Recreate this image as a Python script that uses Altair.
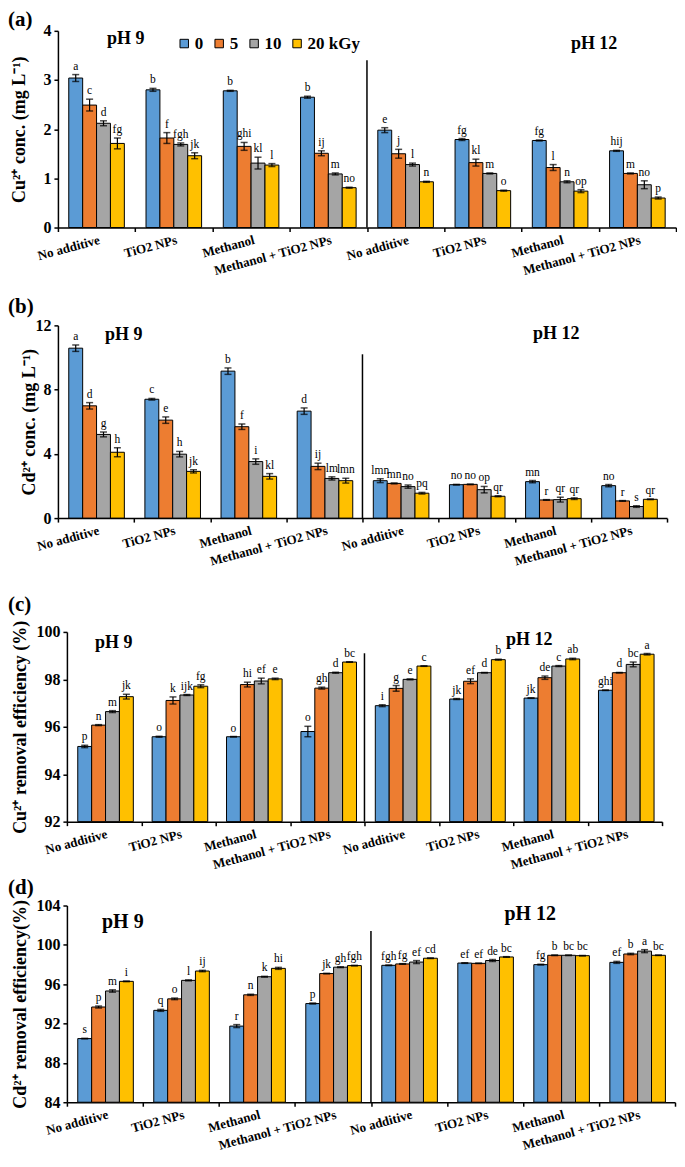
import altair as alt
import pandas as pd

# ---------------- data ----------------
categories = ["No additive", "TiO2 NPs", "Methanol", "Methanol  + TiO2 NPs"]
ph_levels = ["pH 9", "pH 12"]
doses = ["0", "5", "10", "20 kGy"]
dose_colors = ["#5B9BD5", "#ED7D31", "#A5A5A5", "#FFC000"]

# (a) Cu2+ concentration (mg/L)
cu_conc = [3.04, 2.49, 2.12, 1.71, 2.80, 1.82, 1.69, 1.46, 2.78, 1.65, 1.31, 1.27, 2.65, 1.51, 1.09, 0.81,
           1.98, 1.50, 1.28, 0.93, 1.79, 1.32, 1.10, 0.75, 1.77, 1.22, 0.93, 0.74, 1.56, 1.10, 0.87, 0.60]
cu_conc_err = [0.07, 0.12, 0.05, 0.11, 0.03, 0.11, 0.03, 0.06, 0.01, 0.08, 0.12, 0.03, 0.02, 0.05, 0.02, 0.01,
               0.05, 0.09, 0.03, 0.01, 0.02, 0.07, 0.01, 0.01, 0.01, 0.06, 0.02, 0.03, 0.01, 0.01, 0.08, 0.02]
cu_conc_letters = ["a", "c", "d", "fg", "b", "f", "fgh", "jk", "b", "ghi", "kl", "l", "b", "ij", "m", "no",
                   "e", "j", "l", "n", "fg", "kl", "m", "o", "fg", "l", "n", "op", "hij", "m", "no", "p"]

# (b) Cd2+ concentration (mg/L)
cd_conc = [10.58, 6.99, 5.21, 4.10, 7.40, 6.10, 3.98, 2.91, 9.15, 5.69, 3.52, 2.60, 6.66, 3.22, 2.47, 2.33,
           2.33, 2.16, 1.96, 1.55, 2.08, 2.10, 1.77, 1.36, 2.27, 1.13, 1.15, 1.21, 2.02, 1.07, 0.72, 1.17]
cd_conc_err = [0.20, 0.20, 0.15, 0.28, 0.05, 0.20, 0.17, 0.10, 0.20, 0.17, 0.17, 0.17, 0.20, 0.20, 0.10, 0.15,
               0.12, 0.03, 0.10, 0.05, 0.02, 0.02, 0.20, 0.03, 0.07, 0.02, 0.15, 0.05, 0.07, 0.02, 0.05, 0.02]
cd_conc_letters = ["a", "d", "g", "h", "c", "e", "h", "jk", "b", "f", "i", "kl", "d", "ij", "lm", "lmn",
                   "lmn", "mn", "no", "pq", "no", "no", "op", "qr", "mn", "r", "qr", "qr", "no", "r", "s", "qr"]

# (c) Cu2+ removal efficiency (%)
cu_rem = [95.17, 96.07, 96.64, 97.27, 95.58, 97.11, 97.34, 97.71, 95.58, 97.78, 97.93, 98.02, 95.80, 97.63, 98.28, 98.73,
          96.89, 97.62, 98.00, 98.56, 97.17, 97.92, 98.28, 98.83, 97.21, 98.07, 98.56, 98.86, 97.54, 98.28, 98.63, 99.06]
cu_rem_err = [0.05, 0.02, 0.04, 0.10, 0.02, 0.15, 0.02, 0.06, 0.01, 0.10, 0.12, 0.03, 0.22, 0.04, 0.02, 0.01,
              0.04, 0.12, 0.02, 0.01, 0.02, 0.10, 0.01, 0.02, 0.01, 0.07, 0.02, 0.03, 0.01, 0.01, 0.10, 0.03]
cu_rem_letters = ["p", "n", "m", "jk", "o", "k", "ijk", "fg", "o", "hi", "ef", "e", "o", "gh", "d", "bc",
                  "i", "g", "e", "c", "jk", "ef", "d", "b", "jk", "de", "c", "ab", "ghi", "d", "bc", "a"]

# (d) Cd2+ removal efficiency (%)
cd_rem = [90.47, 93.68, 95.31, 96.29, 93.34, 94.51, 96.39, 97.34, 91.74, 94.92, 96.76, 97.61, 94.03, 97.08, 97.73, 97.89,
          97.92, 98.06, 98.25, 98.64, 98.15, 98.12, 98.41, 98.77, 97.99, 98.94, 98.94, 98.90, 98.22, 99.07, 99.36, 98.94]
cd_rem_err = [0.03, 0.10, 0.12, 0.03, 0.10, 0.08, 0.05, 0.07, 0.15, 0.06, 0.04, 0.10, 0.05, 0.03, 0.04, 0.03,
              0.03, 0.03, 0.15, 0.03, 0.03, 0.02, 0.10, 0.03, 0.04, 0.03, 0.03, 0.02, 0.10, 0.07, 0.15, 0.02]
cd_rem_letters = ["s", "p", "m", "i", "q", "o", "l", "ij", "r", "n", "k", "hi", "p", "jk", "gh", "fgh",
                  "fgh", "fg", "ef", "cd", "ef", "ef", "de", "bc", "fg", "b", "bc", "bc", "ef", "b", "a", "bc"]

# top of the pH-separating vertical line (in data units)
separator_top = [3.40, 10.2, 99.1, 101.4]

FONT = "Liberation Serif"
keys = [f"{ph}|{c}" for ph in ph_levels for c in categories]


def build_df(vals, errs, lets):
    rows = []
    n = 0
    for k in keys:
        for d in doses:
            rows.append({"key": k, "dose": d, "value": vals[n],
                         "lo": round(vals[n] - errs[n], 4), "hi": round(vals[n] + errs[n], 4),
                         "letter": lets[n]})
            n += 1
    return pd.DataFrame(rows)


def text_layer(s, x, y, size, align="center"):
    return alt.Chart(pd.DataFrame({"t": [s]})).mark_text(
        font=FONT, fontSize=size, fontWeight="bold", align=align, baseline="middle", color="black"
    ).encode(x=alt.value(x), y=alt.value(y), text="t:N")


def panel(df, p, sep_top):
    extra = p["extra"]
    H = extra + p["plot_h"]
    xs = alt.Scale(domain=keys, range=[p["x0"], p["x1"]], paddingInner=0, paddingOuter=0)
    ys = alt.Scale(domain=p["ydom"], range=[H, extra], nice=False, zero=False)
    xaxis = alt.Axis(title=None, labelExpr="split(datum.label, '|')[1]", labelAngle=345,
                     labelAlign="right", labelBaseline="top", labelFont=FONT, labelFontWeight="bold",
                     labelFontSize=13, labelColor="black", labelPadding=2, labelOffset=1,
                     labelOverlap=False, tickBand="extent", tickSize=4, tickColor="black",
                     tickWidth=1.5, domainColor="black", domainWidth=1.5)
    yaxis = alt.Axis(title=p["ytitle"], values=p["yticks"], offset=p["yoff"], titleX=p["titleX"],
                     titleFont=FONT, titleFontSize=18, titleFontWeight="bold", titleColor="black",
                     labelFont=FONT, labelFontSize=16, labelFontWeight="bold", labelColor="black",
                     labelPadding=3, tickSize=4, tickColor="black", tickWidth=1.5,
                     domainColor="black", domainWidth=1.5, grid=False)
    X = alt.X("key:N", scale=xs, sort=keys, axis=xaxis)
    XO = alt.XOffset("dose:N", scale=alt.Scale(domain=doses, paddingInner=0, paddingOuter=0.78), sort=doses)

    def Y(f):
        return alt.Y(f, scale=ys, axis=yaxis)

    base = alt.Chart(df)
    bars = base.mark_bar(stroke="black", strokeWidth=1).encode(
        x=X, xOffset=XO, y=Y("value:Q"), y2=alt.datum(p["ydom"][0]),
        color=alt.Color("dose:N", sort=doses, scale=alt.Scale(domain=doses, range=dose_colors),
                        legend=alt.Legend(title=None, orient="none", legendX=p["legx"],
                                          legendY=extra + p["legy"] - 9, direction="horizontal",
                                          symbolType="square", symbolSize=72, symbolStrokeColor="black",
                                          symbolStrokeWidth=1, symbolOpacity=1, labelFont=FONT,
                                          labelFontSize=17, labelFontWeight="bold", labelColor="black",
                                          labelOffset=2, columnPadding=7, padding=0)))
    rule = base.mark_rule(color="black", strokeWidth=1.2).encode(x=X, xOffset=XO, y=Y("lo:Q"), y2="hi:Q")
    cap_hi = base.mark_tick(color="black", thickness=1.5, size=7).encode(x=X, xOffset=XO, y=Y("hi:Q"))
    cap_lo = base.mark_tick(color="black", thickness=1.5, size=7).encode(x=X, xOffset=XO, y=Y("lo:Q"))
    letters = base.mark_text(font=FONT, fontSize=11.5, baseline="bottom", dy=-3, color="black").encode(
        x=X, xOffset=XO, y=Y("hi:Q"), text="letter:N")
    sep_df = pd.DataFrame({"key": [keys[4]], "base": [p["ydom"][0]], "top": [sep_top]})
    sep = alt.Chart(sep_df).mark_rule(color="black", strokeWidth=1.5).encode(
        x=alt.X("key:N", scale=xs, sort=keys, axis=xaxis, bandPosition=0), y=Y("base:Q"), y2="top:Q")
    lbl = text_layer(p["label"], -50, extra + p["label_y"], 21, align="left")
    ph9 = text_layer("pH 9", p["ph9"][0], extra + p["ph9"][1], p["ph_size"])
    ph12 = text_layer("pH 12", p["ph12"][0], extra + p["ph12"][1], p["ph_size"])
    return alt.layer(bars, rule, cap_hi, cap_lo, letters, sep, lbl, ph9, ph12).properties(
        width=p["x1"], height=H)


panels_cfg = [
    dict(label="(a)", ytitle="Cu²⁺ conc. (mg L⁻¹)", ydom=[0, 4], yticks=[0, 1, 2, 3, 4],
         extra=0, plot_h=197, x0=0, x1=619, yoff=0, titleX=-29, legx=118, legy=13,
         ph9=(68, 8), ph12=(537, 13), ph_size=18, label_y=-11),
    dict(label="(b)", ytitle="Cd²⁺ conc. (mg L⁻¹)", ydom=[0, 12], yticks=[0, 4, 8, 12],
         extra=98, plot_h=193, x0=0, x1=610, yoff=0, titleX=-19, legx=111, legy=10,
         ph9=(66, 10), ph12=(499, 9), ph_size=18, label_y=-18),
    dict(label="(c)", ytitle="Cu²⁺ removal efficiency (%)", ydom=[92, 100], yticks=[92, 94, 96, 98, 100],
         extra=114, plot_h=190, x0=9, x1=605, yoff=-9, titleX=-37, legx=111, legy=6,
         ph9=(56, 11), ph12=(472, 8), ph_size=18, label_y=-27),
    dict(label="(d)", ytitle="Cd²⁺ removal efficiency(%)", ydom=[84, 104], yticks=[84, 88, 92, 96, 100, 104],
         extra=84, plot_h=197, x0=9, x1=618, yoff=-9, titleX=-37, legx=118, legy=13,
         ph9=(65, 17), ph12=(473, 9), ph_size=20, label_y=-18),
]

datasets = [
    build_df(cu_conc, cu_conc_err, cu_conc_letters),
    build_df(cd_conc, cd_conc_err, cd_conc_letters),
    build_df(cu_rem, cu_rem_err, cu_rem_letters),
    build_df(cd_rem, cd_rem_err, cd_rem_letters),
]

charts = [panel(df, p, s) for df, p, s in zip(datasets, panels_cfg, separator_top)]

chart = alt.vconcat(*charts, spacing=0, bounds="flush").properties(padding=0).configure_view(stroke=None)

chart.save("out.html", embed_options={"renderer": "svg", "actions": False})
